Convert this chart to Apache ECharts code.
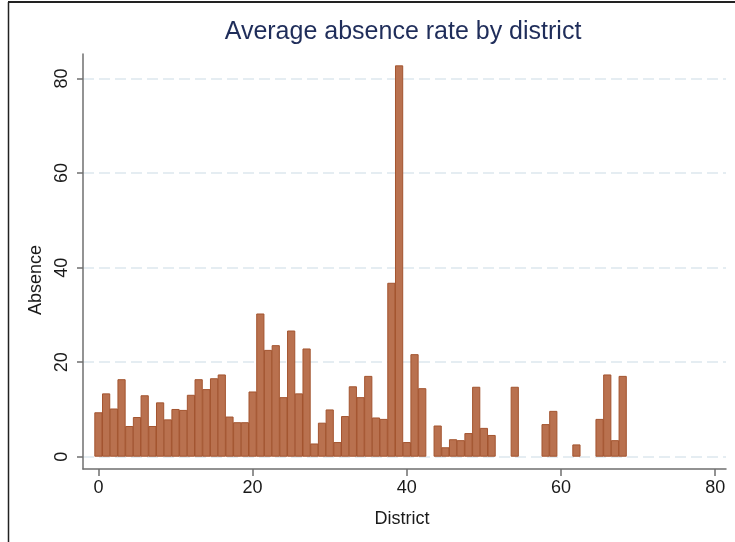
<!DOCTYPE html>
<html>
<head>
<meta charset="utf-8">
<script src="https://cdn.jsdelivr.net/npm/echarts@6/dist/echarts.min.js"></script>
<style>
  html, body { margin: 0; padding: 0; background: #ffffff; }
  #chart { width: 735px; height: 542px; }
</style>
</head>
<body>
<div id="chart"></div>
<script>
// District numbers that have data
const districts = [
  0, 1, 2, 3, 4, 5, 6, 7, 8, 9,
  10, 11, 12, 13, 14, 15, 16, 17, 18, 19,
  20, 21, 22, 23, 24, 25, 26, 27, 28, 29,
  30, 31, 32, 33, 34, 35, 36, 37, 38, 39,
  40, 41, 42, 44, 45, 46, 47, 48, 49, 50,
  51, 54, 58, 59, 62, 65, 66, 67, 68
];

// Average absence rate for each district above
const absence = [
  9.4, 13.4, 10.2, 16.4, 6.5, 8.4, 13.0, 6.5, 11.5, 7.9,
  10.1, 9.9, 13.1, 16.4, 14.3, 16.6, 17.4, 8.5, 7.3, 7.3,
  13.8, 30.3, 22.6, 23.6, 12.6, 26.7, 13.4, 22.9, 2.8, 7.2,
  10.0, 3.1, 8.6, 14.9, 12.6, 17.1, 8.3, 8.0, 36.8, 82.8,
  3.1, 21.7, 14.5, 6.6, 2.0, 3.7, 3.5, 5.0, 14.8, 6.1,
  4.6, 14.8, 6.9, 9.7, 2.6, 8.0, 17.4, 3.5, 17.1
];

// Tick labels on each axis
const xTicks = [0, 20, 40, 60, 80];
const yTicks = [0, 20, 40, 60, 80];

const FONT = '"Liberation Sans", Arial, Helvetica, sans-serif';
const AXIS_COLOR = '#6f6f6f';
const TEXT_COLOR = '#1a1a1a';

const GRID = { left: 83, right: 9, top: 54, bottom: 73 };
const X_MIN = -2, X_MAX = 81.4;

const chart = echarts.init(document.getElementById('chart'), null, { renderer: 'canvas' });

// each bar is one district wide; a hair extra so neighbouring bars touch
const unitWidth = (chart.getWidth() - GRID.left - GRID.right) / (X_MAX - X_MIN);

const option = {
  backgroundColor: '#ffffff',
  animation: false,
  grid: Object.assign({ containLabel: false }, GRID),
  xAxis: {
    type: 'value',
    min: X_MIN,
    max: X_MAX,
    axisLine: { show: true, onZero: false, lineStyle: { color: AXIS_COLOR, width: 1.5 } },
    axisTick: { show: true, length: 7, customValues: xTicks, lineStyle: { color: AXIS_COLOR, width: 1.5 } },
    axisLabel: {
      customValues: xTicks, margin: 10,
      fontFamily: FONT, fontSize: 18, color: TEXT_COLOR
    },
    splitLine: { show: false }
  },
  yAxis: {
    type: 'value',
    min: -2.6,
    max: 85.2,
    axisLine: { show: true, onZero: false, lineStyle: { color: AXIS_COLOR, width: 1.5 } },
    axisTick: { show: true, length: 6, customValues: yTicks, lineStyle: { color: AXIS_COLOR, width: 1.5 } },
    axisLabel: {
      customValues: yTicks, rotate: 90, margin: 12,
      fontFamily: FONT, fontSize: 18, color: TEXT_COLOR
    },
    splitLine: {
      show: true,
      lineStyle: { color: '#dde8ee', width: 1.5, type: [11, 5] }
    }
  },
  series: [{
    type: 'bar',
    data: districts.map((d, i) => [d, absence[i]]),
    barWidth: unitWidth + 0.5,
    itemStyle: { color: '#b9714f', borderColor: '#a3542f', borderWidth: 1 },
    emphasis: { disabled: true }
  }],
  graphic: [
    {
      type: 'text', x: 403, y: 32,
      style: {
        text: 'Average absence rate by district',
        fontFamily: FONT, fontSize: 25, fill: '#1f2d5a',
        align: 'center', verticalAlign: 'middle'
      }
    },
    {
      type: 'text', x: 36, y: 280, rotation: Math.PI / 2,
      style: {
        text: 'Absence', fontFamily: FONT, fontSize: 18, fill: TEXT_COLOR,
        align: 'center', verticalAlign: 'middle'
      }
    },
    {
      type: 'text', x: 402, y: 519,
      style: {
        text: 'District', fontFamily: FONT, fontSize: 18, fill: TEXT_COLOR,
        align: 'center', verticalAlign: 'middle'
      }
    },
    // page frame along the top and left edges
    {
      type: 'line',
      shape: { x1: 8, y1: 2, x2: 735, y2: 2 },
      style: { stroke: '#222222', lineWidth: 2 }
    },
    {
      type: 'line',
      shape: { x1: 8.5, y1: 2, x2: 8.5, y2: 542 },
      style: { stroke: '#222222', lineWidth: 1.5 }
    }
  ]
};

chart.setOption(option);
</script>
</body>
</html>
